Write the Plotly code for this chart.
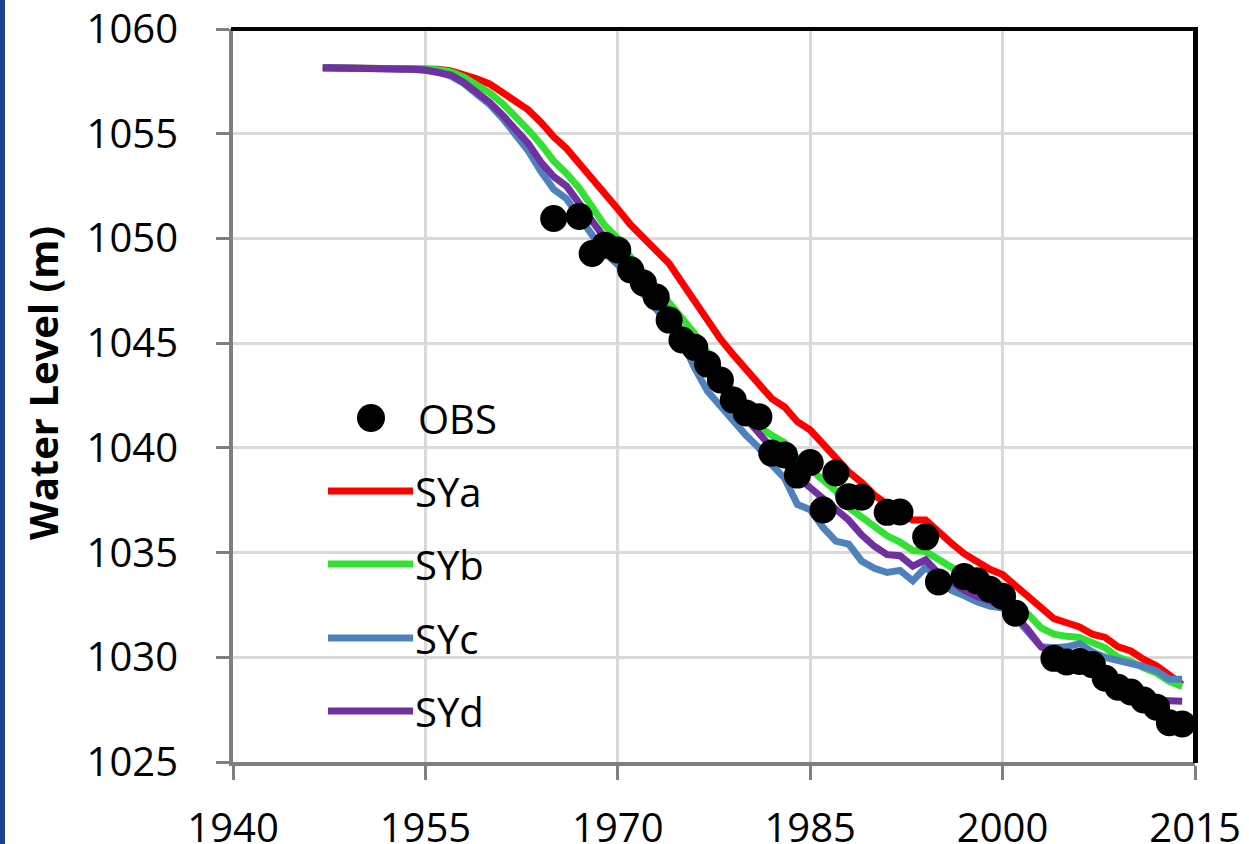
import plotly.graph_objects as go

years = list(range(1947, 2015))

sya = [1058.15, 1058.15, 1058.15, 1058.14, 1058.14, 1058.13, 1058.13, 1058.12, 1058.10, 1058.08,
       1058.00, 1057.85, 1057.62, 1057.38, 1057.00, 1056.60, 1056.15, 1055.55, 1054.85, 1054.30,
       1053.60, 1052.90, 1052.15, 1051.40, 1050.65, 1050.00, 1049.45, 1048.80, 1047.90, 1047.00,
       1046.10, 1045.20, 1044.45, 1043.75, 1043.05, 1042.35, 1041.95, 1041.25, 1040.85, 1040.15,
       1039.45, 1038.85, 1038.35, 1037.75, 1037.30, 1036.95, 1036.55, 1036.55, 1035.95, 1035.45,
       1034.95, 1034.55, 1034.20, 1033.95, 1033.40, 1032.85, 1032.30, 1031.85, 1031.65, 1031.45,
       1031.10, 1030.95, 1030.50, 1030.30, 1029.90, 1029.60, 1029.15, 1028.70]

syb = [1058.15, 1058.15, 1058.15, 1058.14, 1058.14, 1058.13, 1058.12, 1058.11, 1058.09, 1058.05,
       1057.95, 1057.70, 1057.35, 1056.95, 1056.45, 1055.85, 1055.20, 1054.50, 1053.70, 1053.10,
       1052.40, 1051.50, 1050.60, 1050.00, 1049.10, 1048.40, 1047.70, 1047.00, 1046.20, 1045.45,
       1044.50, 1043.60, 1042.70, 1041.90, 1041.00, 1040.60, 1040.25, 1039.50, 1039.00, 1038.55,
       1037.95, 1037.15, 1036.70, 1036.15, 1035.80, 1035.50, 1035.10, 1035.05, 1034.70, 1034.30,
       1033.85, 1033.50, 1033.10, 1032.80, 1032.50, 1032.05, 1031.40, 1031.10, 1031.00, 1030.95,
       1030.70, 1030.45, 1030.00, 1029.80, 1029.50, 1029.25, 1028.85, 1028.60]

syc = [1058.15, 1058.15, 1058.14, 1058.14, 1058.13, 1058.12, 1058.11, 1058.08, 1058.03, 1057.95,
       1057.75, 1057.40, 1056.90, 1056.40, 1055.75, 1054.95, 1054.20, 1053.20, 1052.35, 1051.90,
       1051.00, 1050.10, 1049.30, 1048.75, 1048.05, 1047.30, 1046.60, 1045.90, 1045.10, 1043.80,
       1042.70, 1041.95, 1041.30, 1040.60, 1040.00, 1039.20, 1038.55, 1037.30, 1037.05, 1036.20,
       1035.55, 1035.40, 1034.60, 1034.25, 1034.05, 1034.15, 1033.65, 1034.30, 1033.70, 1033.20,
       1032.95, 1032.65, 1032.45, 1032.35, 1031.90, 1031.20, 1030.50, 1030.45, 1030.50, 1030.65,
       1030.25, 1030.00, 1029.85, 1029.75, 1029.55, 1029.35, 1028.95, 1028.95]

syd = [1058.15, 1058.15, 1058.14, 1058.14, 1058.13, 1058.12, 1058.11, 1058.08, 1058.04, 1057.95,
       1057.80, 1057.45, 1057.00, 1056.50, 1055.90, 1055.20, 1054.55, 1053.65, 1052.95, 1052.50,
       1051.70, 1050.90, 1050.00, 1049.40, 1048.60, 1047.90, 1047.20, 1046.50, 1045.60, 1044.70,
       1043.70, 1042.90, 1042.10, 1041.40, 1040.70, 1039.90, 1039.30, 1038.60, 1038.10, 1037.60,
       1037.00, 1036.55, 1035.85, 1035.30, 1034.90, 1034.85, 1034.35, 1034.65, 1034.00, 1033.60,
       1033.20, 1032.90, 1032.70, 1032.40, 1032.00, 1031.30, 1030.50, 1030.20, 1030.00, 1029.80,
       1029.55, 1029.20, 1028.65, 1028.40, 1028.10, 1027.95, 1027.90, 1027.90]

obs_years = [1965, 1967, 1968, 1969, 1970, 1971, 1972, 1973, 1974, 1975, 1976, 1977, 1978, 1979,
             1980, 1981, 1982, 1983, 1984, 1985, 1986, 1987, 1988, 1989, 1991, 1992, 1994, 1995,
             1997, 1998, 1999, 2000, 2001, 2004, 2005, 2006, 2007, 2008, 2009, 2010, 2011, 2012,
             2013, 2014]
obs = [1050.95, 1051.05, 1049.28, 1049.68, 1049.45, 1048.50, 1047.87, 1047.20, 1046.10, 1045.15,
       1044.80, 1044.00, 1043.24, 1042.28, 1041.67, 1041.49, 1039.75, 1039.66, 1038.70, 1039.30,
       1037.03, 1038.80, 1037.66, 1037.64, 1036.92, 1036.94, 1035.75, 1033.60, 1033.86, 1033.65,
       1033.25, 1032.92, 1032.10, 1029.95, 1029.78, 1029.80, 1029.65, 1029.00, 1028.57, 1028.34,
       1027.96, 1027.62, 1026.88, 1026.82]

x_ticks = [1940, 1955, 1970, 1985, 2000, 2015]
y_ticks = [1025, 1030, 1035, 1040, 1045, 1050, 1055, 1060]

series = [("SYa", sya, "#FF0000"), ("SYb", syb, "#33E133"),
          ("SYc", syc, "#4F81BD"), ("SYd", syd, "#7030A0")]

FONT = "Open Sans"
W, H = 1249, 844
# plot area in page pixels: x 233..1195, y 29..762
ML, MT = 233, 29
MR, MB = W - 1195, H - 762
PW, PH = W - ML - MR, H - MT - MB


def px(xp):
    return (xp - ML) / PW


def py(yp):
    return (H - MB - yp) / PH


fig = go.Figure()
for name, vals, col in series:
    fig.add_trace(go.Scatter(x=years, y=vals, mode="lines", name=name,
                             line=dict(color=col, width=7), showlegend=False))
fig.add_trace(go.Scatter(x=obs_years, y=obs, mode="markers", name="OBS",
                         marker=dict(color="black", size=27), showlegend=False))

shapes = []
annotations = []
# custom legend
shapes.append(dict(type="circle", xref="paper", yref="paper", xsizemode="pixel", ysizemode="pixel",
                   xanchor=px(371), yanchor=py(418), x0=-14, x1=14, y0=-14, y1=14,
                   fillcolor="black", line=dict(width=0)))
annotations.append(dict(text="OBS", xref="paper", yref="paper", x=px(416), y=py(418),
                        xanchor="left", yanchor="middle", showarrow=False,
                        font=dict(family=FONT, size=40, color="black")))
leg_y = [491, 564, 638, 711]
for (name, vals, col), ly in zip(series, leg_y):
    shapes.append(dict(type="line", xref="paper", yref="paper", x0=px(328), x1=px(413),
                       y0=py(ly), y1=py(ly), line=dict(color=col, width=7)))
    annotations.append(dict(text=name, xref="paper", yref="paper", x=px(413), y=py(ly),
                            xanchor="left", yanchor="middle", showarrow=False,
                            font=dict(family=FONT, size=40, color="black")))

# frame top/right drawn as filled bands
shapes.append(dict(type="rect", xref="paper", yref="paper", x0=px(231), x1=px(1198),
                   y0=py(31), y1=py(27), fillcolor="black", line=dict(width=0), layer="above"))
shapes.append(dict(type="rect", xref="paper", yref="paper", x0=px(1193), x1=px(1198),
                   y0=py(763), y1=py(27), fillcolor="black", line=dict(width=0), layer="above"))
# left blue stripe of the slide background
shapes.append(dict(type="rect", xref="paper", yref="paper", x0=px(-2), x1=px(5), y0=py(H + 5), y1=py(-5),
                   fillcolor="#1F3F8F", line=dict(width=0), layer="below"))

annotations.append(dict(text="<b>Water Level (m)</b>", xref="paper", yref="paper", x=px(42), y=py(383),
                        xanchor="center", yanchor="middle", textangle=-90, showarrow=False,
                        font=dict(family=FONT, size=40, color="black")))

fig.update_layout(
    width=W, height=H, margin=dict(l=ML, r=MR, t=MT, b=MB, autoexpand=False),
    paper_bgcolor="white", plot_bgcolor="white",
    shapes=shapes, annotations=annotations, showlegend=False,
    xaxis=dict(range=[1940, 2015], tickvals=x_ticks, ticktext=[str(v) for v in x_ticks],
               automargin=False, ticklabeloverflow="allow",
               showgrid=True, gridcolor="#D9D9D9", gridwidth=3, zeroline=False,
               showline=True, linecolor="#7F7F7F", linewidth=4,
               ticks="outside", ticklen=14, tickwidth=3, tickcolor="#7F7F7F",
               ticklabelstandoff=14,
               tickfont=dict(family=FONT, size=40, color="black")),
    yaxis=dict(range=[1025, 1060], tickvals=y_ticks, ticktext=[str(v) for v in y_ticks],
               automargin=False, ticklabeloverflow="allow",
               showgrid=True, gridcolor="#D9D9D9", gridwidth=3, zeroline=False,
               showline=True, linecolor="#7F7F7F", linewidth=4,
               ticks="outside", ticklen=13, tickwidth=3, tickcolor="#7F7F7F",
               ticklabelstandoff=30,
               tickfont=dict(family=FONT, size=40, color="black")),
)

fig.write_html("out.html", config={"displayModeBar": False},
               post_script="document.body.style.margin='0';document.body.style.overflow='hidden';")
